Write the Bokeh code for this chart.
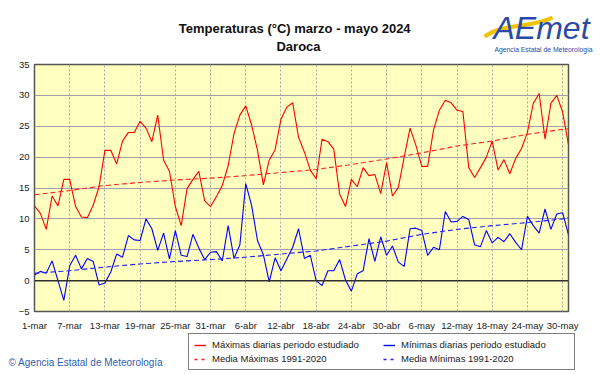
from bokeh.plotting import figure
from bokeh.models import FixedTicker, Span, Label, Legend, LegendItem, Range1d
from bokeh.embed import file_html
from bokeh.resources import INLINE

# ---- data ----
dias = list(range(92))  # 0 = 1-mar ... 91 = 31-may
tmax = [12.1, 10.9, 8.3, 13.7, 12.1, 16.4, 16.4, 12.0, 10.3, 10.2,
        12.2, 15.2, 21.1, 21.1, 18.9, 22.6, 24.0, 24.0, 25.8, 24.7,
        22.5, 26.8, 19.5, 17.7, 12.0, 8.9, 14.9, 16.4, 17.7, 12.9,
        12.0, 13.6, 15.4, 18.6, 23.8, 26.8, 28.3, 25.2, 21.1, 15.5,
        19.5, 21.2, 26.1, 28.1, 28.8, 23.2, 20.8, 17.9, 16.5, 22.9,
        22.5, 21.3, 14.0, 12.0, 16.4, 15.2, 18.3, 17.0, 17.2, 14.1,
        19.1, 13.7, 15.1, 20.0, 24.7, 21.9, 18.5, 18.5, 24.4, 27.6,
        29.2, 28.8, 27.6, 27.4, 18.3, 16.7, 18.3, 20.0, 22.6, 17.9,
        19.6, 17.3, 19.8, 21.4, 24.0, 28.7, 30.3, 22.9, 28.7, 30.0,
        27.3, 22.0]
tmin = [0.9, 1.5, 1.2, 3.2, 0.0, -3.2, 2.4, 4.1, 1.9, 3.6,
        3.1, -0.7, -0.4, 1.4, 4.3, 3.8, 7.3, 6.6, 6.5, 10.0,
        8.4, 4.9, 7.7, 3.5, 8.1, 4.1, 3.9, 7.5, 5.3, 3.4,
        4.6, 4.7, 3.2, 8.9, 3.6, 5.8, 15.7, 12.2, 6.5, 4.2,
        -0.2, 3.7, 1.6, 3.5, 5.4, 8.4, 3.6, 4.1, 0.0, -0.8,
        1.6, 1.6, 3.4, 0.1, -1.7, 1.1, 1.6, 6.8, 3.1, 7.1,
        4.1, 5.6, 3.0, 2.3, 8.4, 8.5, 8.1, 4.1, 5.4, 5.0,
        11.2, 9.5, 9.6, 10.4, 9.9, 5.8, 5.5, 8.1, 6.1, 7.0,
        6.3, 7.6, 6.2, 5.0, 10.4, 8.9, 7.7, 11.6, 8.3, 10.8,
        11.0, 7.4]
media_dias = [0, 6, 12, 18, 24, 30, 36, 42, 48, 54, 60, 66, 72, 78, 84, 90, 91]
media_max = [13.9, 14.6, 15.4, 15.9, 16.3, 16.6, 17.0, 17.5, 18.0, 18.8,
             19.7, 20.7, 21.8, 22.6, 23.7, 24.5, 24.6]
media_min = [1.2, 1.6, 2.2, 2.7, 3.1, 3.4, 3.8, 4.3, 4.8, 5.6,
             6.4, 7.5, 8.3, 8.9, 9.4, 10.0, 10.2]
tick_dias = [0, 6, 12, 18, 24, 30, 36, 42, 48, 54, 60, 66, 72, 78, 84, 90]
tick_labels = ["1-mar", "7-mar", "13-mar", "19-mar", "25-mar", "31-mar",
               "6-abr", "12-abr", "18-abr", "24-abr", "30-abr",
               "6-may", "12-may", "18-may", "24-may", "30-may"]
y_ticks = [-5, 0, 5, 10, 15, 20, 25, 30, 35]

FONT = "Liberation Sans"
W = 601
TOP_H, MAIN_H, BOT_H = 60, 273, 41
NAN = float("nan")


def blank(h):
    f = figure(width=W, height=h, output_backend="svg", toolbar_location=None,
               x_range=Range1d(0, W), y_range=Range1d(0, h),
               x_axis_type=None, y_axis_type=None,
               min_border_left=0, min_border_right=0, min_border_top=0, min_border_bottom=0)
    f.grid.visible = False
    f.outline_line_color = None
    f.background_fill_color = "white"
    f.border_fill_color = "white"
    return f


def lab(fig, x, y, text, size, color="#111111", style="normal", align="center", baseline="middle"):
    fig.add_layout(Label(x=x, y=y, text=text, text_font=FONT, text_font_size=size,
                         text_color=color, text_font_style=style,
                         text_align=align, text_baseline=baseline))

# ---------- header (title + logo); coordinates = page pixels, y up ----------
top = blank(TOP_H)
lab(top, 296, TOP_H - 28, "Temperaturas (°C) marzo  - mayo 2024", "13px", style="bold")
lab(top, 298, TOP_H - 46, "Daroca", "13px", style="bold")
top.bezier(x0=[484], y0=[TOP_H - 36], x1=[552], y1=[TOP_H - 17],
           cx0=[505], cy0=[TOP_H - 22], cx1=[530], cy1=[TOP_H - 28],
           line_color="#F2C400", line_width=4)
lab(top, 493, TOP_H - 27, "AEmet", "32px", color="#2A4AA8", style="italic", align="left")
lab(top, 543, TOP_H - 49, "Agencia Estatal de Meteorología", "6.8px", color="#2A4AA8")

# ---------- main chart ----------
p = figure(width=W, height=MAIN_H, output_backend="svg", toolbar_location=None,
           x_range=Range1d(0, 91), y_range=Range1d(-5, 35),
           min_border_left=34, min_border_right=33,
           min_border_top=4, min_border_bottom=22)
p.background_fill_color = "#FFFFC0"
p.border_fill_color = "white"
p.outline_line_color = "#555555"
p.outline_line_width = 1.5

p.xgrid.ticker = FixedTicker(ticks=tick_dias)
p.xgrid.grid_line_color = "#A8A8A8"
p.xgrid.grid_line_dash = "2 2"
p.ygrid.ticker = FixedTicker(ticks=y_ticks)
p.ygrid.grid_line_color = "#A0A0B0"

p.xaxis.ticker = FixedTicker(ticks=tick_dias)
p.xaxis.major_label_overrides = {d: l for d, l in zip(tick_dias, tick_labels)}
p.yaxis.ticker = FixedTicker(ticks=y_ticks)
for ax in (p.xaxis, p.yaxis):
    ax.axis_line_color = None
    ax.major_tick_line_color = None
    ax.minor_tick_line_color = None
    ax.major_tick_out = 0
    ax.major_tick_in = 0
    ax.minor_tick_out = 0
    ax.major_label_text_font = FONT
    ax.major_label_text_font_size = "9.5px"
    ax.major_label_text_color = "#222222"
p.xaxis.major_label_standoff = 8
p.yaxis.major_label_standoff = 5

p.add_layout(Span(location=0, dimension="width", line_color="#303030", line_width=1.5))

p.line(dias, tmax, line_color="#FF0000", line_width=1.1)
p.line(dias, tmin, line_color="#0000FF", line_width=1.1)
p.line(media_dias, media_max, line_color="#FF2020", line_width=1.1, line_dash="5 3")
p.line(media_dias, media_min, line_color="#2020FF", line_width=1.1, line_dash="5 3")

# ---------- footer (legend + copyright) ----------
bot = blank(BOT_H)
k_max = bot.line(x=[NAN], y=[NAN], line_color="#FF0000", line_width=1.4)
k_min = bot.line(x=[NAN], y=[NAN], line_color="#0000FF", line_width=1.4)
k_mmax = bot.line(x=[NAN], y=[NAN], line_color="#FF2020", line_width=1.4, line_dash="3 4")
k_mmin = bot.line(x=[NAN], y=[NAN], line_color="#2020FF", line_width=1.4, line_dash="3 4")

legend = Legend(items=[
    LegendItem(label="Máximas diarias periodo estudiado", renderers=[k_max]),
    LegendItem(label="Media Máximas 1991-2020", renderers=[k_mmax]),
    LegendItem(label="Mínimas diarias periodo estudiado", renderers=[k_min]),
    LegendItem(label="Media Mínimas 1991-2020", renderers=[k_mmin]),
], location=(188, 4), ncols=2)
legend.border_line_color = "black"
legend.border_line_width = 1
legend.background_fill_color = "white"
legend.background_fill_alpha = 1
legend.label_text_font = FONT
legend.label_text_font_size = "9.5px"
legend.label_text_color = "#222222"
legend.label_height = 10
legend.label_width = 168
legend.glyph_height = 10
legend.glyph_width = 12
legend.label_standoff = 6
legend.spacing = 3
legend.padding = 5
legend.margin = 0
bot.add_layout(legend)

lab(bot, 8, BOT_H - 29, "© Agencia Estatal de Meteorología", "10px", color="#3060B0", align="left")

open("out.html", "w").write(file_html([top, p, bot], INLINE))
